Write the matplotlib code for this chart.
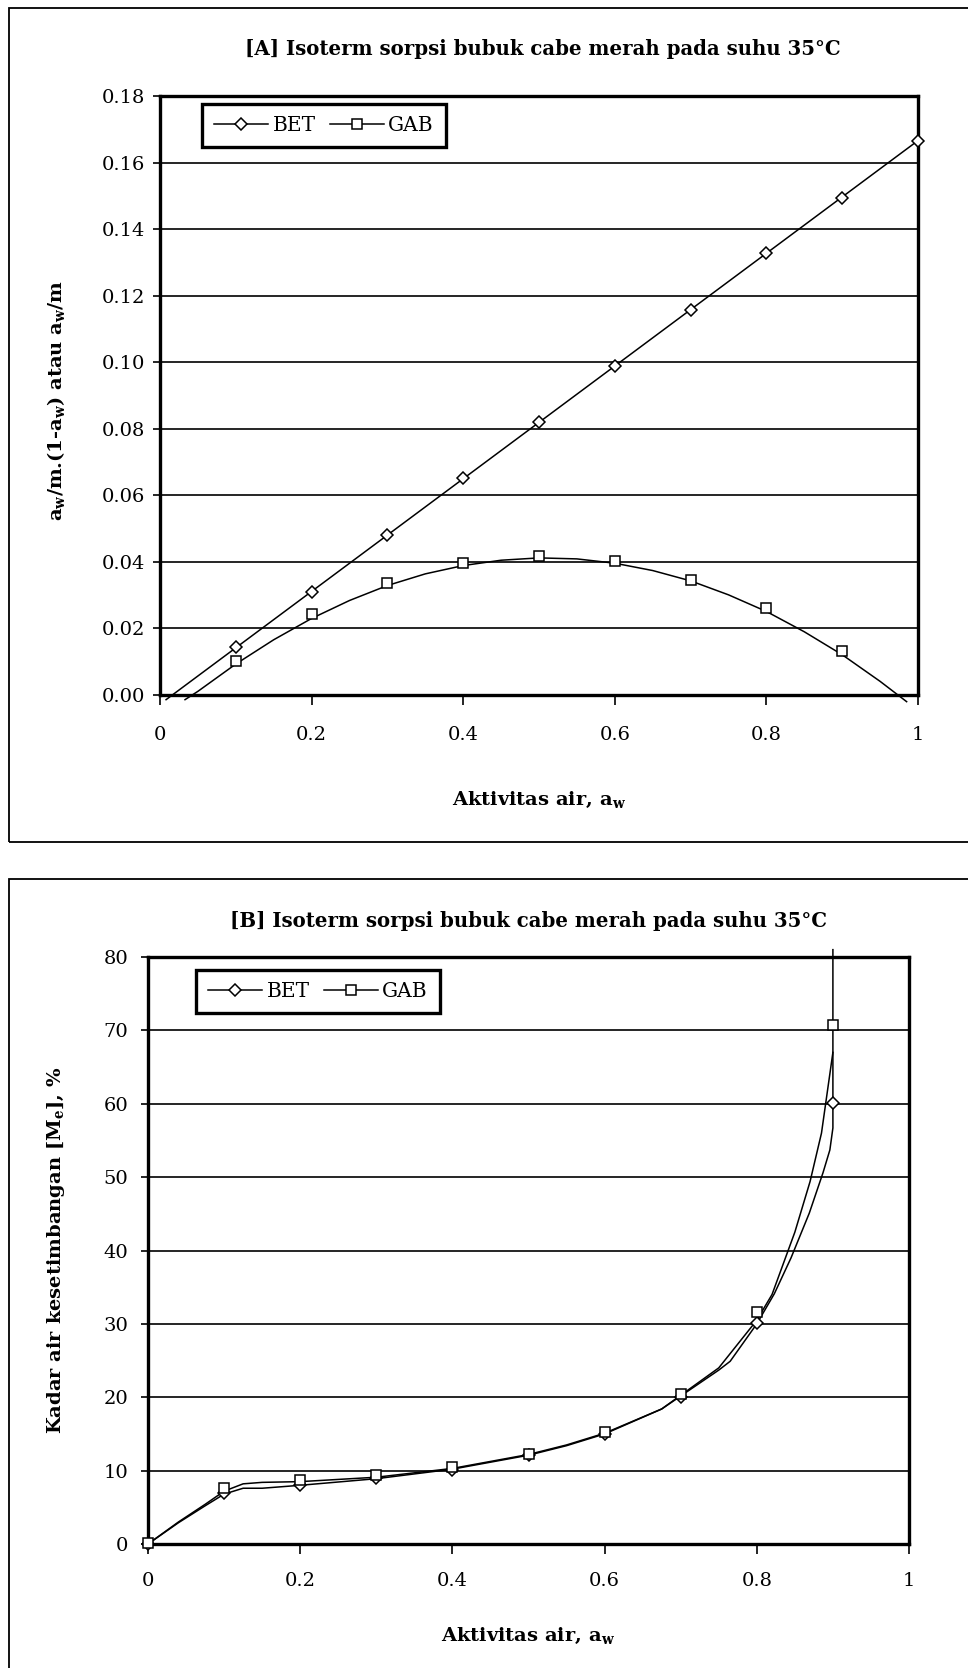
#!/usr/bin/env python3
"""Sorption isotherms of red chili powder at 35 C: BET and GAB, two panels."""

import matplotlib

matplotlib.use("Agg")
import matplotlib.pyplot as plt
from matplotlib.lines import Line2D
from matplotlib.patches import Rectangle

# panel A: linearised forms, aw/m.(1-aw) or aw/m
aw_a_bet = [0.1, 0.2, 0.3, 0.4, 0.5, 0.6, 0.7, 0.8, 0.9, 1.0]
lin_a_bet = [0.0143, 0.0309, 0.0481, 0.0652, 0.0820, 0.0990, 0.1158, 0.1328, 0.1494, 0.1666]
aw_a_gab = [0.1, 0.2, 0.3, 0.4, 0.5, 0.6, 0.7, 0.8, 0.9]
lin_a_gab = [0.0103, 0.0243, 0.0336, 0.0398, 0.0419, 0.0402, 0.0347, 0.0260, 0.0132]

# fitted lines of panel A
fit_a_bet_x = [0.008, 1.0]
fit_a_bet_y = [-0.0014, 0.1666]
fit_a_gab_x = [0.033, 0.05, 0.1, 0.15, 0.2, 0.25, 0.3, 0.35, 0.4, 0.45, 0.5,
               0.55, 0.6, 0.65, 0.7, 0.75, 0.8, 0.85, 0.9, 0.95, 0.985]
fit_a_gab_y = [-0.0014, 0.0011, 0.0093, 0.0166, 0.0230, 0.0284, 0.0329, 0.0364, 0.0389, 0.0405, 0.0412,
               0.0409, 0.0396, 0.0374, 0.0343, 0.0301, 0.0251, 0.0190, 0.0121, 0.0041, -0.0020]

# panel B: equilibrium moisture content (%)
aw_b = [0.0, 0.1, 0.2, 0.3, 0.4, 0.5, 0.6, 0.7, 0.8, 0.9]
me_bet = [0.0, 6.95, 8.1, 9.0, 10.1, 12.1, 15.0, 20.1, 30.1, 60.1]
me_gab = [0.2, 7.65, 8.73, 9.4, 10.45, 12.3, 15.3, 20.5, 31.6, 70.8]

fit_b_bet_x = [0.0, 0.04, 0.075, 0.1, 0.125, 0.15, 0.2, 0.3, 0.4, 0.5, 0.55, 0.6, 0.675,
               0.75, 0.765, 0.8, 0.823, 0.845, 0.869, 0.887, 0.896, 0.9, 0.9]
fit_b_bet_y = [0.0, 2.9, 5.2, 6.8, 7.6, 7.6, 8.0, 8.9, 10.2, 12.1, 13.4, 15.0, 18.4,
               23.7, 24.9, 30.0, 34.1, 39.0, 45.1, 50.6, 53.7, 56.7, 81.0]
fit_b_gab_x = [0.0, 0.04, 0.075, 0.1, 0.125, 0.15, 0.2, 0.3, 0.4, 0.5, 0.55, 0.6, 0.675,
               0.75, 0.8, 0.82, 0.85, 0.87, 0.885, 0.9]
fit_b_gab_y = [0.0, 3.0, 5.4, 7.2, 8.2, 8.4, 8.5, 9.1, 10.3, 12.2, 13.5, 15.1, 18.4,
               24.0, 30.5, 34.0, 42.5, 49.4, 56.0, 67.0]

x_ticks = [0, 0.2, 0.4, 0.6, 0.8, 1.0]
x_tick_labels = ["0", "0.2", "0.4", "0.6", "0.8", "1"]
y_ticks_a = [0.00, 0.02, 0.04, 0.06, 0.08, 0.10, 0.12, 0.14, 0.16, 0.18]
y_ticks_b = [0, 10, 20, 30, 40, 50, 60, 70, 80]

plt.rcParams["font.family"] = ["DejaVu Serif"]
plt.rcParams["mathtext.fontset"] = "dejavuserif"

W, H = 968, 1668
fig = plt.figure(figsize=(W / 100, H / 100), dpi=100)

DIAMOND = dict(marker="D", ms=6.6, mfc="white", mec="black", mew=1.1)
SQUARE = dict(marker="s", ms=7.2, mfc="white", mec="black", mew=1.1)


def fx(px):
    return px / W


def fy(px):
    return 1 - px / H


def style_axes(ax, y_ticks, y_labels, ylim, xpad, ypad):
    ax.set_xlim(0, 1)
    ax.set_ylim(*ylim)
    ax.set_xticks(x_ticks)
    ax.set_xticklabels(x_tick_labels)
    ax.set_yticks(y_ticks)
    ax.set_yticklabels(y_labels)
    ax.tick_params(axis="x", direction="out", length=7, width=1.2, pad=xpad, labelsize=14)
    ax.tick_params(axis="y", direction="out", length=5, width=1.2, pad=ypad, labelsize=14)
    for spine in ax.spines.values():
        spine.set_linewidth(2.4)
        spine.set_zorder(4)
    ax.yaxis.grid(True, color="black", linewidth=1.2)
    ax.set_axisbelow(True)


def add_legend(ax, anchor):
    handles = [
        Line2D([], [], color="black", lw=1.1, **DIAMOND),
        Line2D([], [], color="black", lw=1.1, **SQUARE),
    ]
    leg = ax.legend(handles, ["BET", "GAB"], loc="upper left", bbox_to_anchor=anchor, ncol=2,
                    fontsize=14.5, frameon=True, fancybox=False, framealpha=1,
                    edgecolor="black", handlelength=2.7, handletextpad=0.2,
                    columnspacing=0.7, borderpad=0.6, borderaxespad=0)
    leg.get_frame().set_linewidth(2.4)
    leg.set_zorder(6)


# outer chart frames
fig.patches.append(Rectangle((fx(9), fy(842)), fx(980) - fx(9), fy(8) - fy(842),
                             transform=fig.transFigure, fill=False, lw=1.3, ec="black"))
fig.patches.append(Rectangle((fx(9), fy(1700)), fx(980) - fx(9), fy(879) - fy(1700),
                             transform=fig.transFigure, fill=False, lw=1.3, ec="black"))

# ---- panel A ----
ax_a = fig.add_axes([fx(160), fy(695), fx(918) - fx(160), fy(96) - fy(695)])
ax_a.plot(fit_a_bet_x, fit_a_bet_y, color="black", lw=1.1, clip_on=False, zorder=3)
ax_a.plot(fit_a_gab_x, fit_a_gab_y, color="black", lw=1.1, clip_on=False, zorder=3)
ax_a.plot(aw_a_bet, lin_a_bet, ls="none", clip_on=False, zorder=5, **DIAMOND)
ax_a.plot(aw_a_gab, lin_a_gab, ls="none", clip_on=False, zorder=5, **SQUARE)
style_axes(ax_a, y_ticks_a, [f"{v:.2f}" for v in y_ticks_a], (0, 0.18), xpad=15, ypad=6)
ax_a.set_xlabel(r"Aktivitas air, a$_\mathregular{w}$", fontsize=14, fontweight="bold")
ax_a.xaxis.set_label_coords(0.5, (695 - 790) / 599)
ax_a.set_ylabel(r"a$_\mathregular{w}$/m.(1-a$_\mathregular{w}$) atau a$_\mathregular{w}$/m",
                fontsize=14, fontweight="bold")
ax_a.yaxis.set_label_coords((67 - 160) / 758, (695 - 400) / 599)
add_legend(ax_a, ((202 - 160) / 758, (695 - 104) / 599))
fig.text(fx(543), fy(49), "[A] Isoterm sorpsi bubuk cabe merah pada suhu 35°C",
         ha="center", va="center", fontsize=14.2, fontweight="bold")

# ---- panel B ----
ax_b = fig.add_axes([fx(148), fy(1544), fx(909) - fx(148), fy(957) - fy(1544)])
ax_b.plot(fit_b_bet_x, fit_b_bet_y, color="black", lw=1.1, clip_on=False, zorder=3)
ax_b.plot(fit_b_gab_x, fit_b_gab_y, color="black", lw=1.1, clip_on=False, zorder=3)
ax_b.plot(aw_b, me_bet, ls="none", clip_on=False, zorder=5, **DIAMOND)
ax_b.plot(aw_b, me_gab, ls="none", clip_on=False, zorder=5, **SQUARE)
style_axes(ax_b, y_ticks_b, [str(v) for v in y_ticks_b], (0, 80), xpad=13, ypad=9)
ax_b.set_xlabel(r"Aktivitas air, a$_\mathregular{w}$", fontsize=14, fontweight="bold")
ax_b.xaxis.set_label_coords(0.5, (1544 - 1626) / 587)
ax_b.set_ylabel(r"Kadar air kesetimbangan [M$_\mathregular{e}$], %", fontsize=14, fontweight="bold")
ax_b.yaxis.set_label_coords((67 - 148) / 761, 0.5)
add_legend(ax_b, ((196 - 148) / 761, (1544 - 970) / 587))
fig.text(fx(529), fy(921), "[B] Isoterm sorpsi bubuk cabe merah pada suhu 35°C",
         ha="center", va="center", fontsize=14.2, fontweight="bold")

fig.savefig("out.png", dpi=100)
